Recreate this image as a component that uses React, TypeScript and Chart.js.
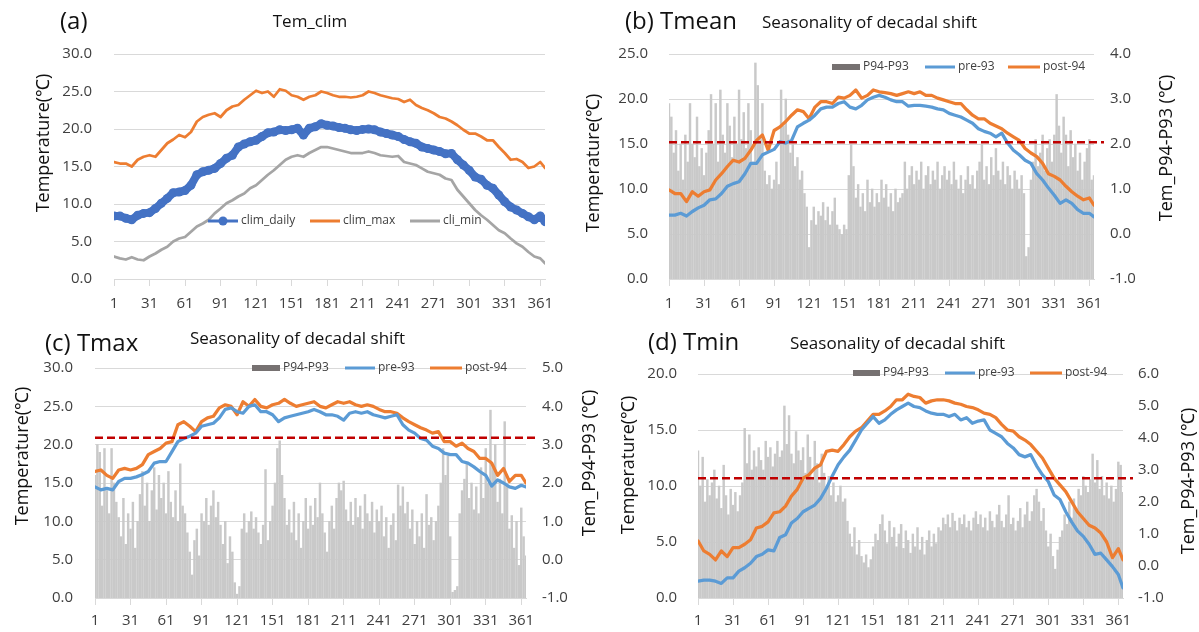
import React, { useEffect, useRef } from "react";
import { Chart, registerables } from "chart.js";

Chart.register(...registerables);

const W = 1199;
const H = 632;
const FONT = "'Open Sans', sans-serif";

// x positions (day of year)
const LINE_DAYS = [...Array.from({ length: 73 }, (_, i) => 1 + 5 * i), 365];
const BAR_DAYS = Array.from({ length: 183 }, (_, i) => 1 + 2 * i);
const X_TICKS = [1, 31, 61, 91, 121, 151, 181, 211, 241, 271, 301, 331, 361];

// (a) climatology
const CLIM_DAILY = [
  8.4, 8.4, 8.1, 7.9, 8.5, 8.75, 8.85, 9.4, 10.1, 10.75,
  11.5, 11.6, 11.8, 12.5, 13.9, 14.3, 14.5, 14.75, 15.4, 16.1,
  16.5, 17.6, 18.0, 18.3, 18.5, 19.0, 19.5, 19.6, 19.9, 19.8,
  19.9, 20.1, 19.2, 20.1, 20.3, 20.7, 20.5, 20.4, 20.2, 20.1,
  19.9, 19.8, 19.95, 20.0, 19.9, 19.6, 19.4, 19.2, 19.0, 18.6,
  18.3, 18.1, 17.6, 17.4, 17.2, 17.0, 16.7, 16.75, 15.9, 15.2,
  14.5, 13.6, 13.3, 12.5, 12.1, 11.2, 10.3, 9.6, 9.2, 8.75,
  8.3, 7.9, 8.4, 7.65,
];
const CLIM_MAX = [
  15.6, 15.4, 15.4, 15.0, 15.9, 16.3, 16.5, 16.3, 17.2, 18.1,
  18.6, 19.2, 18.9, 19.6, 21.0, 21.6, 21.9, 22.1, 21.6, 22.5,
  23.0, 23.2, 23.9, 24.5, 25.1, 24.8, 25.0, 24.3, 25.3, 25.1,
  24.5, 24.3, 23.9, 24.3, 24.5, 25.0, 24.8, 24.5, 24.3, 24.3,
  24.2, 24.3, 24.5, 25.0, 24.8, 24.5, 24.3, 24.1, 24.0, 23.6,
  23.9, 23.2, 22.8, 22.5, 22.1, 21.6, 21.4, 21.0, 20.5, 19.9,
  19.4, 19.4, 19.0, 18.5, 18.5, 17.6, 16.8, 15.9, 16.0, 15.6,
  14.8, 15.0, 15.6, 14.8,
];
const CLI_MIN = [
  3.0, 2.75, 2.6, 2.9, 2.6, 2.5, 3.0, 3.4, 3.9, 4.3,
  5.0, 5.4, 5.6, 6.3, 7.0, 7.4, 7.9, 8.75, 9.4, 10.1,
  10.5, 11.0, 11.4, 12.1, 12.5, 13.2, 13.9, 14.5, 15.2, 15.9,
  16.3, 16.5, 16.3, 16.8, 17.2, 17.6, 17.6, 17.4, 17.2, 17.0,
  16.8, 16.8, 16.8, 17.0, 16.8, 16.5, 16.4, 16.3, 16.4, 15.6,
  15.4, 15.2, 14.75, 14.3, 14.1, 13.9, 13.4, 13.2, 11.9, 11.0,
  10.1, 9.2, 8.5, 7.9, 7.2, 6.5, 6.1, 5.4, 4.75, 4.3,
  3.6, 3.0, 2.75, 2.1,
];

// (b) Tmean
const PRE93_MEAN = [
  7.1, 7.1, 7.3, 7.0, 7.5, 7.9, 8.2, 8.8, 8.9, 9.5,
  10.3, 10.6, 10.8, 11.7, 12.85, 12.85, 13.8, 14.1, 14.4, 15.25,
  15.1, 15.4, 16.9, 17.3, 17.65, 18.2, 18.9, 19.1, 19.1, 19.5,
  19.7, 19.1, 18.9, 19.3, 19.9, 20.2, 20.4, 20.2, 19.9, 19.7,
  19.7, 19.2, 19.3, 19.3, 19.2, 19.1, 18.9, 18.8, 18.4, 18.2,
  18.0, 17.65, 17.3, 16.7, 16.4, 16.2, 15.8, 16.2, 15.1, 14.3,
  13.8, 13.2, 12.85, 11.7, 11.0, 10.1, 9.3, 8.4, 8.8, 8.4,
  7.7, 7.3, 7.3, 6.9,
];
const POST94_MEAN = [
  9.9, 9.5, 9.5, 8.6, 9.7, 9.2, 9.7, 9.9, 11.0, 11.7,
  12.5, 13.2, 13.0, 13.4, 14.3, 15.4, 16.0, 14.3, 16.5, 16.9,
  17.5, 18.2, 18.8, 18.6, 17.8, 19.1, 19.7, 19.7, 19.5, 20.2,
  20.1, 20.4, 21.0, 20.1, 20.4, 21.0, 20.8, 20.7, 20.6, 20.4,
  20.6, 20.8, 20.6, 20.8, 20.4, 20.4, 20.1, 19.9, 19.7, 19.5,
  19.5, 18.8, 18.2, 17.8, 17.8, 17.3, 17.0, 16.7, 16.2, 15.8,
  15.4, 14.5, 14.0, 13.6, 12.85, 11.7, 11.4, 11.0, 10.3, 9.7,
  9.2, 8.8, 9.0, 8.2,
];
const DIFF_MEAN = [
  2.9, 2.6, 1.8, 2.3, 1.4, 2.0, 1.2, 2.2, 1.6, 2.9,
  2.0, 1.7, 2.6, 1.5, 1.9, 1.3, 1.8, 2.3, 3.1, 2.0,
  2.9, 1.6, 3.2, 2.2, 1.8, 2.9, 2.4, 1.7, 2.6, 2.0,
  3.2, 2.1, 2.7, 1.9, 2.9, 2.3, 1.6, 3.8, 3.3, 2.1,
  2.9, 1.4, 1.1, 1.3, 1.0, 1.2, 1.6, 1.1, 3.2, 2.4,
  3.0, 2.2, 1.8, 2.0, 1.5, 1.7, 1.2, 1.4, 0.9, 0.6,
  -0.3, 0.3, 0.6, 0.2, 0.5, 0.4, 0.7, 0.3, 0.6, 0.2,
  0.5, 0.8, 0.2, 0.1, 0.0, 0.2, 0.1, 1.3, 2.0, 1.5,
  0.8, 1.1, 0.6, 0.9, 0.5, 1.2, 0.7, 1.0, 0.6, 0.9,
  0.7, 1.2, 0.8, 1.1, 0.6, 0.9, 0.5, 1.0, 0.7, 0.8,
  0.9, 1.6, 1.0, 1.3, 1.5, 1.1, 1.4, 1.2, 1.6, 1.0,
  1.3, 1.5, 1.1, 1.4, 1.2, 1.6, 1.0, 1.3, 1.5, 1.2,
  1.4, 1.1, 1.6, 1.2, 1.0, 1.3, 0.9, 1.2, 1.5, 1.1,
  1.3, 1.0, 1.4, 1.6, 2.0, 1.2, 1.5, 1.1, 1.7, 1.3,
  1.9, 1.4, 1.2, 1.6, 1.1, 1.5, 1.3, 1.0, 1.4, 1.2,
  1.0, 1.3, 0.9, -0.5, -0.3, 1.2, 1.6, 2.1, 1.5, 1.8,
  2.2, 1.4, 1.9, 2.1, 1.6, 2.2, 3.1, 2.4, 1.8, 2.6,
  2.2, 1.5, 2.3, 1.7, 2.0, 1.4, 1.8, 1.2, 1.6, 1.9,
  2.1, 1.2, 1.3,
];
const THRESH_MEAN = 15.2;

// (c) Tmax
const PRE93_MAX = [
  14.5, 14.1, 14.3, 14.1, 15.2, 15.6, 15.6, 15.8, 16.1, 16.5,
  17.6, 17.8, 17.8, 19.1, 20.4, 20.8, 21.1, 21.5, 22.4, 22.6,
  22.8, 23.5, 24.6, 24.8, 24.3, 24.1, 25.0, 25.2, 24.3, 24.3,
  23.9, 23.0, 23.5, 23.7, 23.9, 24.1, 24.3, 24.6, 24.3, 23.9,
  23.9, 23.7, 23.2, 24.1, 24.3, 24.1, 24.3, 23.9, 23.7, 23.5,
  23.7, 23.9, 22.6, 21.9, 21.5, 20.8, 20.6, 19.8, 19.5, 18.9,
  18.7, 18.7, 17.8, 17.6, 17.1, 16.5, 16.0, 14.6, 15.4, 15.0,
  14.5, 14.3, 14.7, 14.5,
];
const POST94_MAX = [
  16.5, 16.7, 16.0, 15.6, 16.7, 16.9, 16.7, 16.9, 17.4, 18.7,
  19.1, 19.5, 20.2, 20.4, 22.6, 23.0, 22.4, 21.7, 23.0, 23.5,
  23.7, 24.8, 25.2, 25.0, 23.9, 25.6, 25.0, 25.9, 25.0, 24.8,
  25.2, 25.4, 25.9, 25.4, 25.0, 25.2, 25.4, 25.6, 25.0, 24.8,
  25.2, 25.6, 25.4, 25.6, 25.2, 25.0, 25.2, 25.0, 24.6, 24.3,
  24.3, 24.1, 23.5, 23.0, 22.6, 22.2, 21.9, 21.5, 21.7, 20.4,
  20.4, 19.8, 20.2, 19.5, 19.1, 18.2, 18.2, 17.6, 16.0, 16.9,
  15.2, 16.0, 16.0, 15.0,
];
const DIFF_MAX = [
  2.2, 3.0, 2.8, 1.4, 2.9, 1.8, 1.2, 2.9, 2.0, 1.5,
  1.1, 0.6, 1.6, 0.4, 1.2, 0.8, 1.5, 0.3, 1.0, 1.7,
  2.3, 1.4, 2.0, 1.0, 1.8, 2.4, 1.3, 2.2, 1.6, 2.0,
  1.2, 2.3, 1.5, 1.1, 1.8, 1.0, 2.5, 1.4, 1.2, 0.7,
  0.2, -0.4, 0.5, 0.8, 0.1, 1.2, 1.0, 1.6, 0.9, 1.4,
  1.8, 1.1, 1.5, 0.9, 0.4, 1.0, -0.1, 0.6, 0.2, -0.6,
  -0.9, -0.7, 0.8, 1.2, 0.7, 1.0, 1.25, 0.8, 1.1, 0.7,
  0.4, 0.9, 2.35, 0.5, 1.0, 1.4, 2.0, 2.9, 3.1, 2.2,
  1.6, 0.9, 1.3, 0.7, 1.5, 0.5, 1.2, 0.3, 1.0, 1.6,
  0.8, 1.4, 0.9, 1.6, 1.1, 2.0, 1.2, 0.7, 0.2, 1.0,
  1.4, 0.8, 1.6, 2.0, 1.8, 2.05, 1.3, 1.0, 1.5, 0.9,
  1.6, 1.1, 1.4, 0.8, 1.7, 1.2, 1.0, 1.5, 0.7, 1.3,
  1.0, 1.4, 0.6, 1.1, 0.3, 0.9, 1.2, 0.5, 1.95, 1.4,
  1.9, 1.2, 1.5, 0.8, 1.3, 0.4, 1.0, 0.6, 1.2, 0.3,
  1.7, 0.9, 1.1, 0.5, 1.0, 1.4, 2.0, 2.9, 2.2, 2.7,
  0.6, -0.85, -0.8, -0.7, 1.2, 1.8, 2.1, 2.5, 1.6, 2.0,
  1.3, 1.9, 1.2, 2.4, 1.6, 2.9, 2.0, 3.9, 2.4, 3.0,
  1.5, 2.1, 1.2, 3.6, 2.0, 0.8, 1.15, 0.3, 1.0, -0.15,
  1.35, 0.6, 0.1,
];
const THRESH_MAX = 20.9;

// (d) Tmin
const PRE93_MIN = [
  1.5, 1.6, 1.6, 1.5, 1.3, 1.8, 1.8, 2.4, 2.7, 3.1,
  3.7, 3.9, 4.3, 4.2, 5.4, 5.65, 6.7, 7.1, 7.7, 8.0,
  8.3, 8.9, 9.8, 10.9, 11.9, 12.6, 13.2, 14.1, 15.0, 15.6,
  16.2, 15.6, 15.9, 16.4, 16.8, 17.1, 17.4, 17.1, 17.0, 16.7,
  16.5, 16.4, 16.4, 16.2, 16.4, 15.9, 16.1, 15.6, 15.8, 15.9,
  15.0, 14.7, 14.4, 13.8, 13.4, 12.8, 12.6, 12.8, 11.8, 11.0,
  10.4, 9.2, 8.8, 7.7, 6.8, 6.0, 5.5, 4.8, 3.9, 4.0,
  3.4, 2.8, 2.1, 0.9,
];
const POST94_MIN = [
  5.1, 4.2, 3.9, 3.4, 4.2, 3.7, 4.5, 4.5, 4.8, 5.2,
  6.25, 6.4, 6.8, 7.6, 7.7, 8.2, 9.1, 9.7, 10.7, 11.0,
  11.6, 11.9, 13.1, 13.2, 13.1, 13.7, 14.4, 14.9, 15.2, 15.8,
  16.4, 16.4, 16.7, 17.1, 17.7, 17.7, 18.2, 18.0, 17.9, 17.4,
  17.6, 17.7, 17.7, 17.6, 17.4, 17.3, 17.1, 17.0, 16.8, 16.5,
  16.4, 16.1, 15.5, 15.0, 14.9, 14.4, 14.1, 13.7, 13.1, 12.5,
  11.6, 10.7, 10.1, 9.5, 8.6, 7.7, 7.1, 6.5, 6.25, 5.8,
  5.0, 3.6, 4.4, 3.4,
];
const DIFF_MIN = [
  3.6, 2.5, 3.4, 2.0, 2.7, 2.2, 2.6, 3.0, 2.1, 2.5,
  1.8, 3.15, 2.2, 1.6, 2.4, 1.9, 2.3, 1.7, 2.2, 2.6,
  4.3, 3.2, 4.1, 3.0, 3.6, 3.1, 3.7, 3.3, 3.0, 3.9,
  3.4, 3.7, 3.1, 3.5, 3.9, 3.4, 3.6, 5.0, 3.8, 4.7,
  3.5, 3.2, 4.2, 3.6, 3.3, 3.7, 2.9, 4.1, 3.4, 2.7,
  3.9, 3.2, 2.6, 3.5, 2.9, 2.4, 2.8, 2.2, 2.6, 2.0,
  2.2, 2.5, 2.0, 2.1, 1.4, 1.0, 0.6, 1.2, 0.35, 0.8,
  0.3, 0.1, 0.35, -0.05, 0.2, 0.6, 1.0, 0.8, 1.3, 1.6,
  1.1, 0.7, 1.4, 0.9, 1.2, 0.6, 1.0, 1.3, 0.55, 1.1,
  0.8, 0.4, 1.0, 0.6, 1.2, 0.5, 0.9, 0.35, 0.8, 1.1,
  0.6, 1.0, 0.7, 1.2, 1.1, 1.5, 1.3, 1.6, 1.2, 1.65,
  1.4, 1.1, 1.5, 1.3, 1.6, 1.2, 1.4, 1.1, 1.5, 1.7,
  1.3, 1.6, 1.2, 1.5, 1.1, 1.7, 1.4, 1.2, 1.6, 1.9,
  1.4, 1.2, 1.6, 2.2, 1.3, 1.5, 1.1, 1.4, 1.8, 1.2,
  1.6, 2.0, 1.4, 1.7, 2.2, 2.4, 2.0, 1.4, 1.8, 1.1,
  0.6, 1.0, 0.3, -0.1, 0.5, 0.9, 1.1, 1.6, 1.3, 2.0,
  1.5, 2.1, 1.8, 2.4, 2.2, 2.8, 2.5, 2.3, 2.7, 3.5,
  2.6, 3.3, 2.4, 2.8, 2.2, 2.6, 2.1, 2.5, 2.0, 2.4,
  3.25, 3.15, 2.3,
];
const THRESH_MIN = 10.7;

const BLUE_A = "#4472C4";
const BLUE = "#5B9BD5";
const ORANGE = "#ED7D31";
const GRAY = "#A5A5A5";
const BAR_GRAY = "#c9c9c9";
const SWATCH = "#767171";
const GRID = "#d9d9d9";
const TICK_COLOR = "#404040";

type LineSpec = { label: string; data: number[]; color: string; width: number; points?: boolean };
type LegendItem = { kind: "bar" | "line" | "marker"; x1: number; x2: number; color: string; text: string };
type TextItem = { text: string; x: number; y: number; size: number; rot?: boolean; align?: CanvasTextAlign };
type Range = { min: number; max: number; step: number };
type Panel = {
  area: { left: number; right: number; top: number; bottom: number };
  xAxisH: number;
  xPad: number;
  yLeft: Range;
  leftPad: number;
  yRight?: Range;
  rightPad?: number;
  lines: LineSpec[];
  bars?: number[];
  barLabel?: string;
  thresh?: number;
  legendY: number;
  legend: LegendItem[];
  texts: TextItem[];
};

const SEAS = "Seasonality of decadal shift";
const TEMP = "Temperature(℃)";
const DIFF_T = "Tem_P94-P93 (℃)";

const PANELS: Panel[] = [
  {
    area: { left: 114, right: 545, top: 54, bottom: 279 },
    xAxisH: 36,
    xPad: 9,
    yLeft: { min: 0, max: 30, step: 5 },
    leftPad: 22,
    lines: [
      { label: "clim_daily", data: CLIM_DAILY, color: BLUE_A, width: 8, points: true },
      { label: "clim_max", data: CLIM_MAX, color: ORANGE, width: 2.75 },
      { label: "cli_min", data: CLI_MIN, color: GRAY, width: 2.75 },
    ],
    legendY: 221,
    legend: [
      { kind: "marker", x1: 208, x2: 238, color: BLUE_A, text: "clim_daily" },
      { kind: "line", x1: 310, x2: 340, color: ORANGE, text: "clim_max" },
      { kind: "line", x1: 410, x2: 440, color: GRAY, text: "cli_min" },
    ],
    texts: [
      { text: "(a)", x: 60, y: 22, size: 24 },
      { text: "Tem_clim", x: 310, y: 22, size: 17, align: "center" },
      { text: TEMP, x: 44, y: 143, size: 18, rot: true },
    ],
  },
  {
    area: { left: 669, right: 1094, top: 54, bottom: 279 },
    xAxisH: 36,
    xPad: 9,
    yLeft: { min: 0, max: 25, step: 5 },
    leftPad: 21,
    yRight: { min: -1, max: 4, step: 1 },
    rightPad: 16,
    lines: [
      { label: "pre-93", data: PRE93_MEAN, color: BLUE, width: 3.25 },
      { label: "post-94", data: POST94_MEAN, color: ORANGE, width: 3.25 },
    ],
    bars: DIFF_MEAN,
    barLabel: "P94-P93",
    thresh: THRESH_MEAN,
    legendY: 67,
    legend: [
      { kind: "bar", x1: 832, x2: 860, color: SWATCH, text: "P94-P93" },
      { kind: "line", x1: 925, x2: 955, color: BLUE, text: "pre-93" },
      { kind: "line", x1: 1008, x2: 1040, color: ORANGE, text: "post-94" },
    ],
    texts: [
      { text: "(b) Tmean", x: 625, y: 22, size: 24 },
      { text: SEAS, x: 762, y: 23, size: 17 },
      { text: TEMP, x: 594, y: 163, size: 18, rot: true },
      { text: DIFF_T, x: 1167, y: 148, size: 18, rot: true },
    ],
  },
  {
    area: { left: 95, right: 526, top: 368, bottom: 598 },
    xAxisH: 34,
    xPad: 7,
    yLeft: { min: 0, max: 30, step: 5 },
    leftPad: 22,
    yRight: { min: -1, max: 5, step: 1 },
    rightPad: 16,
    lines: [
      { label: "pre-93", data: PRE93_MAX, color: BLUE, width: 3.25 },
      { label: "post-94", data: POST94_MAX, color: ORANGE, width: 3.25 },
    ],
    bars: DIFF_MAX,
    barLabel: "P94-P93",
    thresh: THRESH_MAX,
    legendY: 368,
    legend: [
      { kind: "bar", x1: 252, x2: 280, color: SWATCH, text: "P94-P93" },
      { kind: "line", x1: 345, x2: 375, color: BLUE, text: "pre-93" },
      { kind: "line", x1: 430, x2: 462, color: ORANGE, text: "post-94" },
    ],
    texts: [
      { text: "(c) Tmax", x: 45, y: 344, size: 24 },
      { text: SEAS, x: 190, y: 339, size: 17 },
      { text: TEMP, x: 23, y: 456, size: 18, rot: true },
      { text: DIFF_T, x: 590, y: 463, size: 18, rot: true },
    ],
  },
  {
    area: { left: 698, right: 1123, top: 374, bottom: 598 },
    xAxisH: 34,
    xPad: 7,
    yLeft: { min: 0, max: 20, step: 5 },
    leftPad: 21,
    yRight: { min: -1, max: 6, step: 1 },
    rightPad: 15,
    lines: [
      { label: "pre-93", data: PRE93_MIN, color: BLUE, width: 3.25 },
      { label: "post-94", data: POST94_MIN, color: ORANGE, width: 3.25 },
    ],
    bars: DIFF_MIN,
    barLabel: "P94-P93",
    thresh: THRESH_MIN,
    legendY: 373,
    legend: [
      { kind: "bar", x1: 853, x2: 880, color: SWATCH, text: "P94-P93" },
      { kind: "line", x1: 945, x2: 975, color: BLUE, text: "pre-93" },
      { kind: "line", x1: 1030, x2: 1062, color: ORANGE, text: "post-94" },
    ],
    texts: [
      { text: "(d) Tmin", x: 648, y: 343, size: 24 },
      { text: SEAS, x: 790, y: 344, size: 17 },
      { text: TEMP, x: 629, y: 465, size: 18, rot: true },
      { text: DIFF_T, x: 1189, y: 481, size: 18, rot: true },
    ],
  },
];

const AXIS_W = 60;

function buildConfig(p: Panel, idx: number): any {
  const datasets: any[] = p.lines.map((l) => ({
    type: "line",
    label: l.label,
    data: LINE_DAYS.map((d, i) => ({ x: d, y: l.data[i] })),
    borderColor: l.color,
    backgroundColor: l.color,
    borderWidth: l.width,
    borderJoinStyle: "round",
    borderCapStyle: "round",
    pointRadius: l.points ? 4.5 : 0,
    pointBorderWidth: 0,
    pointBackgroundColor: l.color,
    tension: 0,
    yAxisID: "y",
    order: 0,
  }));
  if (p.bars && p.yRight) {
    const base = p.yRight.min;
    datasets.push({
      type: "bar",
      label: p.barLabel,
      data: BAR_DAYS.map((d, i) => ({ x: d, y: [base, p.bars![i]] })),
      backgroundColor: BAR_GRAY,
      borderWidth: 0,
      barThickness: 1.8,
      yAxisID: "y2",
      order: 1,
    });
  }

  const tickFont = { family: FONT, size: 15 };
  const scales: any = {
    x: {
      type: "linear",
      min: 1,
      max: 365,
      offset: false,
      afterBuildTicks: (ax: any) => {
        ax.ticks = X_TICKS.map((v) => ({ value: v }));
      },
      afterFit: (s: any) => {
        s.height = p.xAxisH;
      },
      grid: { offset: false, drawOnChartArea: false, drawTicks: true, tickLength: 7, color: GRID },
      border: { display: true, color: GRID },
      ticks: {
        font: tickFont,
        color: TICK_COLOR,
        padding: p.xPad,
        maxRotation: 0,
        autoSkip: false,
        callback: (v: any) => String(v),
      },
    },
    y: {
      position: "left",
      min: p.yLeft.min,
      max: p.yLeft.max,
      afterFit: (s: any) => {
        s.width = AXIS_W;
      },
      grid: { color: GRID, drawTicks: false },
      border: { display: false },
      ticks: {
        stepSize: p.yLeft.step,
        padding: p.leftPad,
        font: tickFont,
        color: TICK_COLOR,
        callback: (v: any) => Number(v).toFixed(1),
      },
    },
  };
  if (p.yRight) {
    scales.y2 = {
      position: "right",
      min: p.yRight.min,
      max: p.yRight.max,
      beginAtZero: false,
      afterFit: (s: any) => {
        s.width = AXIS_W;
      },
      grid: { drawOnChartArea: false, drawTicks: false },
      border: { display: false },
      ticks: {
        stepSize: p.yRight.step,
        padding: p.rightPad,
        font: tickFont,
        color: TICK_COLOR,
        callback: (v: any) => Number(v).toFixed(1),
      },
    };
  }

  const overlay = {
    id: "overlay" + idx,
    afterDatasetsDraw(chart: any) {
      const ctx: CanvasRenderingContext2D = chart.ctx;
      const ca = chart.chartArea;
      if (p.thresh !== undefined) {
        const y = chart.scales.y.getPixelForValue(p.thresh);
        ctx.save();
        ctx.strokeStyle = "#C00000";
        ctx.lineWidth = 2.5;
        ctx.setLineDash([8, 4]);
        ctx.beginPath();
        ctx.moveTo(ca.left, y);
        ctx.lineTo(ca.right + 10, y);
        ctx.stroke();
        ctx.restore();
      }
      // legend
      ctx.save();
      const ly = p.legendY;
      for (const it of p.legend) {
        if (it.kind === "bar") {
          ctx.fillStyle = it.color;
          ctx.fillRect(it.x1, ly - 3, it.x2 - it.x1, 6);
        } else {
          ctx.strokeStyle = it.color;
          ctx.lineWidth = 3;
          ctx.beginPath();
          ctx.moveTo(it.x1, ly);
          ctx.lineTo(it.x2, ly);
          ctx.stroke();
          if (it.kind === "marker") {
            ctx.fillStyle = it.color;
            ctx.beginPath();
            ctx.arc((it.x1 + it.x2) / 2, ly, 4.5, 0, Math.PI * 2);
            ctx.fill();
          }
        }
        ctx.fillStyle = TICK_COLOR;
        ctx.font = `12px ${FONT}`;
        ctx.textAlign = "left";
        ctx.textBaseline = "middle";
        ctx.fillText(it.text, it.x2 + 3, ly);
      }
      ctx.restore();
    },
    afterDraw(chart: any) {
      const ctx: CanvasRenderingContext2D = chart.ctx;
      for (const t of p.texts) {
        ctx.save();
        ctx.fillStyle = "#111";
        ctx.font = `${t.size}px ${FONT}`;
        ctx.textBaseline = "middle";
        if (t.rot) {
          ctx.translate(t.x, t.y);
          ctx.rotate(-Math.PI / 2);
          ctx.textAlign = "center";
          ctx.fillText(t.text, 0, 0);
        } else {
          ctx.textAlign = t.align || "left";
          ctx.fillText(t.text, t.x, t.y);
        }
        ctx.restore();
      }
    },
  };

  return {
    type: "line",
    data: { datasets },
    options: {
      responsive: false,
      animation: false,
      devicePixelRatio: 1,
      layout: {
        padding: {
          left: p.area.left - AXIS_W,
          right: W - p.area.right - (p.yRight ? AXIS_W : 0),
          top: p.area.top,
          bottom: H - p.area.bottom - p.xAxisH,
        },
      },
      plugins: {
        legend: { display: false },
        tooltip: { enabled: false },
        title: { display: false },
      },
      scales,
    },
    plugins: [overlay],
  };
}

export default function App() {
  const canvases = useRef<(HTMLCanvasElement | null)[]>([]);
  useEffect(() => {
    const charts = PANELS.map((p, i) => new Chart(canvases.current[i] as HTMLCanvasElement, buildConfig(p, i)));
    return () => charts.forEach((c) => c.destroy());
  }, []);
  return (
    <div style={{ position: "fixed", left: 0, top: 0, width: W, height: H, background: "#ffffff" }}>
      {PANELS.map((_, i) => (
        <canvas
          key={i}
          ref={(el) => {
            canvases.current[i] = el;
          }}
          width={W}
          height={H}
          style={{ position: "absolute", left: 0, top: 0, width: W, height: H }}
        />
      ))}
    </div>
  );
}
